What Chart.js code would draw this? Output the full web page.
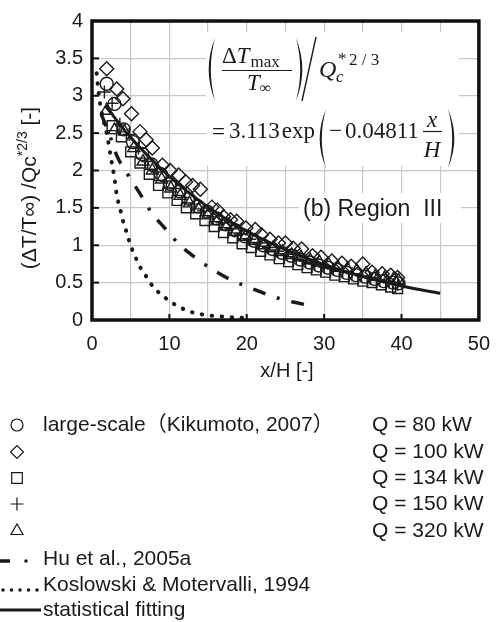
<!DOCTYPE html>
<html>
<head>
<meta charset="utf-8">
<script src="https://cdn.jsdelivr.net/npm/chart.js@4.4.0/dist/chart.umd.min.js"></script>
<style>
  html, body { margin: 0; padding: 0; background: #fff; }
  #wrap { width: 502px; height: 622px; position: relative; }
</style>
</head>
<body>
<div id="wrap"><canvas id="chart"></canvas></div>
<script>
// values
var seriesLabels = ['Q = 80 kW', 'Q = 100 kW', 'Q = 134 kW', 'Q = 150 kW', 'Q = 320 kW'];

var q80X  = [1.9, 2.9, 4.1, 5.3, 6.5, 7.7, 8.9, 10.1, 11.3, 12.5, 13.7, 14.9, 16.1, 17.3, 18.5, 19.7, 20.9, 22.1, 23.3, 24.5, 25.7, 26.9, 28.1, 29.3, 30.5, 31.7, 32.9, 34.1, 35.3, 36.5, 37.7, 38.9, 39.6];
var q80Y  = [3.16, 2.89, 2.55, 2.38, 2.22, 2.08, 1.95, 1.82, 1.72, 1.62, 1.52, 1.45, 1.36, 1.28, 1.2, 1.12, 1.06, 1.0, 0.95, 0.9, 0.86, 0.81, 0.77, 0.73, 0.7, 0.67, 0.63, 0.6, 0.58, 0.55, 0.52, 0.5, 0.49];

var q100X = [1.9, 3.2, 4.0, 5.1, 6.2, 7.0, 7.8, 9.1, 10.1, 11.2, 12.1, 13.0, 14.0, 15.5, 16.2, 17.0, 17.9, 18.7, 19.9, 21.1, 21.9, 23.0, 24.1, 25.0, 26.0, 27.1, 28.5, 29.6, 31.0, 32.3, 33.5, 35.0, 36.2, 37.5, 38.6, 39.5];
var q100Y = [3.36, 3.09, 2.96, 2.76, 2.52, 2.41, 2.3, 2.07, 2.0, 1.94, 1.85, 1.8, 1.75, 1.51, 1.47, 1.38, 1.34, 1.32, 1.23, 1.21, 1.14, 1.08, 1.03, 1.03, 0.96, 0.95, 0.86, 0.84, 0.79, 0.76, 0.72, 0.75, 0.64, 0.62, 0.6, 0.57];

var q134X = [2.6, 3.8, 5.0, 6.2, 7.4, 8.6, 9.8, 11.0, 12.2, 13.4, 14.6, 15.8, 17.0, 18.2, 19.4, 20.6, 21.8, 23.0, 24.2, 25.4, 26.6, 27.8, 29.0, 30.2, 31.4, 32.6, 33.8, 35.0, 36.2, 37.4, 38.6, 39.5];
var q134Y = [2.6, 2.45, 2.25, 2.1, 1.95, 1.8, 1.7, 1.6, 1.5, 1.42, 1.33, 1.25, 1.17, 1.1, 1.02, 0.97, 0.92, 0.87, 0.82, 0.78, 0.74, 0.7, 0.67, 0.64, 0.6, 0.58, 0.55, 0.52, 0.5, 0.47, 0.44, 0.42];

var q150X = [1.6, 2.6, 3.6, 4.8, 6.0, 7.2, 8.4, 9.6, 10.8, 12.0, 13.2, 14.4, 15.6, 16.8, 18.0, 19.2, 20.4, 21.6, 22.8, 24.0, 25.2, 26.4, 27.6, 28.8, 30.0, 31.2, 32.4, 33.6, 34.8, 36.0, 37.2, 38.4, 39.5];
var q150Y = [3.05, 2.9, 2.62, 2.48, 2.3, 2.12, 1.98, 1.86, 1.76, 1.64, 1.55, 1.46, 1.38, 1.3, 1.22, 1.15, 1.08, 1.03, 0.97, 0.92, 0.88, 0.83, 0.79, 0.75, 0.71, 0.68, 0.65, 0.62, 0.59, 0.56, 0.53, 0.51, 0.48];

var q320X = [1.9, 2.9, 4.2, 5.4, 6.6, 7.8, 9.0, 10.2, 11.4, 12.6, 13.8, 15.0, 16.2, 17.4, 18.6, 19.8, 21.0, 22.2, 23.4, 24.6, 25.8, 27.0, 28.2, 29.4, 30.6, 31.8, 33.0, 34.2, 35.4, 36.6, 37.8, 39.0, 39.6];
var q320Y = [2.8, 2.54, 2.52, 2.3, 2.12, 2.0, 1.88, 1.76, 1.66, 1.56, 1.48, 1.4, 1.32, 1.25, 1.18, 1.11, 1.06, 1.0, 0.96, 0.91, 0.87, 0.84, 0.8, 0.77, 0.74, 0.7, 0.68, 0.66, 0.62, 0.58, 0.56, 0.55, 0.53];

// Hu et al., 2005a
var huX = [1.2, 2.3, 3.2, 4.6, 6.2, 7.6, 9.4, 11.3, 13.4, 15.8, 18.1, 20.7, 23.5, 26.0, 28.8];
var huY = [2.75, 2.47, 2.2, 1.95, 1.69, 1.45, 1.23, 1.01, 0.83, 0.66, 0.53, 0.42, 0.31, 0.24, 0.18];

// Koslowski & Motervalli, 1994
var kmX = [0.6, 0.9, 1.3, 1.9, 2.4, 2.9, 3.2, 3.5, 3.8, 4.1, 4.45, 4.8, 5.2, 5.7, 6.2, 6.9, 7.5, 8.3, 9.2, 10.2, 11.3, 12.4, 13.6, 14.7, 15.9, 17.2, 18.3, 19.7];
var kmY = [3.3, 3.0, 2.75, 2.5, 2.2, 1.9, 1.67, 1.54, 1.42, 1.29, 1.18, 1.06, 0.94, 0.82, 0.71, 0.6, 0.5, 0.4, 0.32, 0.24, 0.175, 0.12, 0.088, 0.066, 0.053, 0.044, 0.035, 0.03];

// statistical fitting
var fitX = [1.7, 5, 10, 15, 20, 25, 30, 35, 40, 45];
var fitY = [2.87, 2.44, 1.92, 1.51, 1.19, 0.94, 0.74, 0.58, 0.455, 0.357];

var xTickLabels = [0, 10, 20, 30, 40, 50];
var yTickLabels = [0, 0.5, 1, 1.5, 2, 2.5, 3, 3.5, 4];

function pts(xs, ys) {
  return xs.map(function (x, i) { return { x: x, y: ys[i] }; });
}

var SANS = '"Liberation Sans", Arial, "Noto Sans CJK JP", sans-serif';
var SERIF = '"Liberation Serif", "Times New Roman", serif';
var INK = '#1a1a1a';

function marker(style, r) {
  return {
    type: 'scatter', pointStyle: style, pointRadius: r, pointHoverRadius: r,
    pointBorderColor: INK, pointBackgroundColor: 'rgba(0,0,0,0)', pointBorderWidth: 1.4
  };
}

function curve(data, width, dash, cap) {
  return {
    type: 'line', data: data, showLine: true, pointRadius: 0, borderColor: INK,
    borderWidth: width, borderDash: dash, borderCapStyle: cap, cubicInterpolationMode: 'monotone', fill: false
  };
}

var datasets = [
  Object.assign(marker('circle', 6.5), { label: seriesLabels[0], data: pts(q80X, q80Y) }),
  Object.assign(marker('rectRot', 7), { label: seriesLabels[1], data: pts(q100X, q100Y) }),
  Object.assign(marker('rect', 7), { label: seriesLabels[2], data: pts(q134X, q134Y) }),
  Object.assign(marker('cross', 6.5), { label: seriesLabels[3], data: pts(q150X, q150Y) }),
  Object.assign(marker('triangle', 7), { label: seriesLabels[4], data: pts(q320X, q320Y) }),
  Object.assign(curve(pts(huX, huY), 3.5, [13, 12, 3, 12], 'butt'), { label: 'Hu et al., 2005a' }),
  Object.assign(curve(pts(kmX, kmY), 4, [0.5, 9.5], 'round'), { label: 'Koslowski & Motervalli, 1994' }),
  Object.assign(curve(pts(fitX, fitY), 3, [], 'butt'), { label: 'statistical fitting' })
];

function paren(ctx, x, top, bot, dir) {
  // filled crescent; dir = 1 for "(", -1 for ")"
  var mid = (top + bot) / 2, w = 12 * dir;
  ctx.beginPath();
  ctx.moveTo(x, top);
  ctx.quadraticCurveTo(x - w * 1.05, mid, x, bot);
  ctx.quadraticCurveTo(x - w * 0.7, mid, x, top);
  ctx.fill();
}

function text(ctx, s, x, y, font, align) {
  ctx.font = font;
  ctx.textAlign = align || 'left';
  ctx.fillText(s, x, y);
  return x + ctx.measureText(s).width;
}

var decor = {
  id: 'decor',
  beforeDatasetsDraw: function (chart) {
    var ctx = chart.ctx;
    ctx.save();
    ctx.fillStyle = '#fff';
    ctx.fillRect(206, 32, 253, 134);
    ctx.fillRect(299, 193, 162, 30);
    ctx.fillStyle = INK;
    ctx.strokeStyle = INK;
    ctx.textBaseline = 'alphabetic';

    // (ΔT_max / T_inf) / Qc^(*2/3)
    paren(ctx, 215, 38, 101, 1);
    var xe = text(ctx, 'Δ', 222, 63, '23px ' + SERIF);
    xe = text(ctx, 'T', xe, 63, 'italic 23px ' + SERIF);
    text(ctx, 'max', xe + 1, 67, '17px ' + SERIF);
    ctx.lineWidth = 1.2;
    ctx.beginPath(); ctx.moveTo(222, 70.5); ctx.lineTo(292, 70.5); ctx.stroke();
    xe = text(ctx, 'T', 247, 90, 'italic 23px ' + SERIF);
    text(ctx, '∞', xe, 93, '16px ' + SERIF);
    paren(ctx, 296, 38, 101, -1);
    ctx.lineWidth = 1.4;
    ctx.beginPath(); ctx.moveTo(302, 101); ctx.lineTo(316, 37); ctx.stroke();
    text(ctx, 'Q', 319, 77, 'italic 24px ' + SERIF);
    text(ctx, 'c', 336, 82, 'italic 17px ' + SERIF);
    text(ctx, '*', 338, 64, '17px ' + SERIF);
    text(ctx, '2 / 3', 349, 65, '17px ' + SERIF);

    // = 3.113 exp(-0.04811 x/H)
    xe = text(ctx, '=', 212, 139, '23px ' + SERIF);
    xe = text(ctx, '3.113', xe + 4, 138, '23px ' + SERIF);
    text(ctx, 'exp', xe + 2, 138, '23px ' + SERIF);
    paren(ctx, 326, 109, 168, 1);
    xe = text(ctx, '−', 329, 138, '23px ' + SERIF);
    text(ctx, '0.04811', xe + 3, 138, '23px ' + SERIF);
    text(ctx, 'x', 432, 127, 'italic 23px ' + SERIF, 'center');
    ctx.lineWidth = 1.2;
    ctx.beginPath(); ctx.moveTo(423, 131.5); ctx.lineTo(442, 131.5); ctx.stroke();
    text(ctx, 'H', 432, 157, 'italic 23px ' + SERIF, 'center');
    paren(ctx, 448, 109, 168, -1);

    text(ctx, '(b) Region  III', 303, 216, '23px ' + SANS);
    ctx.restore();
  },
  afterDatasetsDraw: function (chart) {
    var ctx = chart.ctx, a = chart.chartArea, sx = chart.scales.x, sy = chart.scales.y;
    ctx.save();
    ctx.strokeStyle = '#111';
    ctx.lineWidth = 2;
    xTickLabels.forEach(function (v) {
      var p = sx.getPixelForValue(v);
      ctx.beginPath(); ctx.moveTo(p, a.bottom); ctx.lineTo(p, a.bottom - 6); ctx.stroke();
    });
    yTickLabels.forEach(function (v) {
      var p = sy.getPixelForValue(v);
      ctx.beginPath(); ctx.moveTo(a.left, p); ctx.lineTo(a.left + 7, p); ctx.stroke();
    });
    ctx.lineWidth = 3.5;
    ctx.strokeRect(a.left, a.top, a.right - a.left, a.bottom - a.top);
    ctx.restore();
  },
  afterDraw: function (chart) {
    var ctx = chart.ctx;
    ctx.save();
    ctx.fillStyle = INK;
    ctx.strokeStyle = INK;
    ctx.textBaseline = 'middle';

    // x title
    text(ctx, 'x/H [-]', 287, 371, '20px ' + SANS, 'center');

    // y title, rotated
    ctx.save();
    ctx.translate(30, 188);
    ctx.rotate(-Math.PI / 2);
    var f1 = '21px ' + SANS, f2 = '14px ' + SANS;
    ctx.font = f1;
    var w1 = ctx.measureText('(ΔT/T∞) /Qc').width, w3 = ctx.measureText(' [-]').width;
    ctx.font = f2;
    var w2 = ctx.measureText('*2/3').width;
    var x0 = -(w1 + w2 + w3) / 2;
    text(ctx, '(ΔT/T∞) /Qc', x0, 0, f1);
    text(ctx, '*2/3', x0 + w1, -7, f2);
    text(ctx, ' [-]', x0 + w1 + w2, 0, f1);
    ctx.restore();

    // legend
    var lf = '21px ' + SANS;
    var rows = [425, 452, 478, 504, 531];
    var styles = ['circle', 'rectRot', 'rect', 'cross', 'triangle'];
    var radii = [6, 6.5, 7.5, 6.5, 7];
    styles.forEach(function (s, i) {
      ctx.save();
      ctx.fillStyle = 'rgba(0,0,0,0)';
      ctx.lineWidth = 1.2;
      Chart.helpers.drawPoint(ctx, { pointStyle: s, radius: radii[i], rotation: 0, borderWidth: 1.2 }, 17, rows[i]);
      ctx.restore();
      text(ctx, seriesLabels[i], 372, rows[i], lf);
    });
    text(ctx, 'large-scale（Kikumoto, 2007）', 43, rows[0], lf);

    ctx.lineWidth = 3.5;
    ctx.beginPath(); ctx.moveTo(0, 561); ctx.lineTo(10, 561); ctx.stroke();
    ctx.beginPath(); ctx.arc(26, 561, 1.8, 0, Math.PI * 2); ctx.fill();
    text(ctx, 'Hu et al., 2005a', 43, 559, lf);

    [3, 11.5, 20, 28.5, 37].forEach(function (x) {
      ctx.beginPath(); ctx.arc(x, 590, 1.8, 0, Math.PI * 2); ctx.fill();
    });
    text(ctx, 'Koslowski & Motervalli, 1994', 43, 585, lf);

    ctx.lineWidth = 3;
    ctx.beginPath(); ctx.moveTo(0, 610); ctx.lineTo(41, 610); ctx.stroke();
    text(ctx, 'statistical fitting', 43, 610, lf);
    ctx.restore();
  }
};

new Chart(document.getElementById('chart'), {
  type: 'scatter',
  data: { datasets: datasets },
  plugins: [decor],
  options: {
    responsive: true,
    maintainAspectRatio: false,
    animation: false,
    layout: { padding: { left: 0, right: 20, top: 16, bottom: 262 } },
    plugins: { legend: { display: false }, tooltip: { enabled: false } },
    scales: {
      x: {
        type: 'linear', min: 0, max: 50,
        afterFit: function (s) { s.height = 40; },
        border: { display: false },
        grid: { color: '#c8c8c8', lineWidth: 1.2, drawTicks: false },
        ticks: {
          stepSize: 5, padding: 12, color: INK, font: { family: SANS, size: 20 },
          callback: function (v) { return xTickLabels.indexOf(v) >= 0 ? String(v) : ''; }
        }
      },
      y: {
        type: 'linear', min: 0, max: 4,
        afterFit: function (s) { s.width = 92; },
        border: { display: false },
        grid: { color: '#c8c8c8', lineWidth: 1.2, drawTicks: false },
        ticks: {
          stepSize: 0.5, padding: 9, color: INK, font: { family: SANS, size: 20 },
          callback: function (v) { return String(v); }
        }
      }
    }
  }
});
</script>
</body>
</html>
